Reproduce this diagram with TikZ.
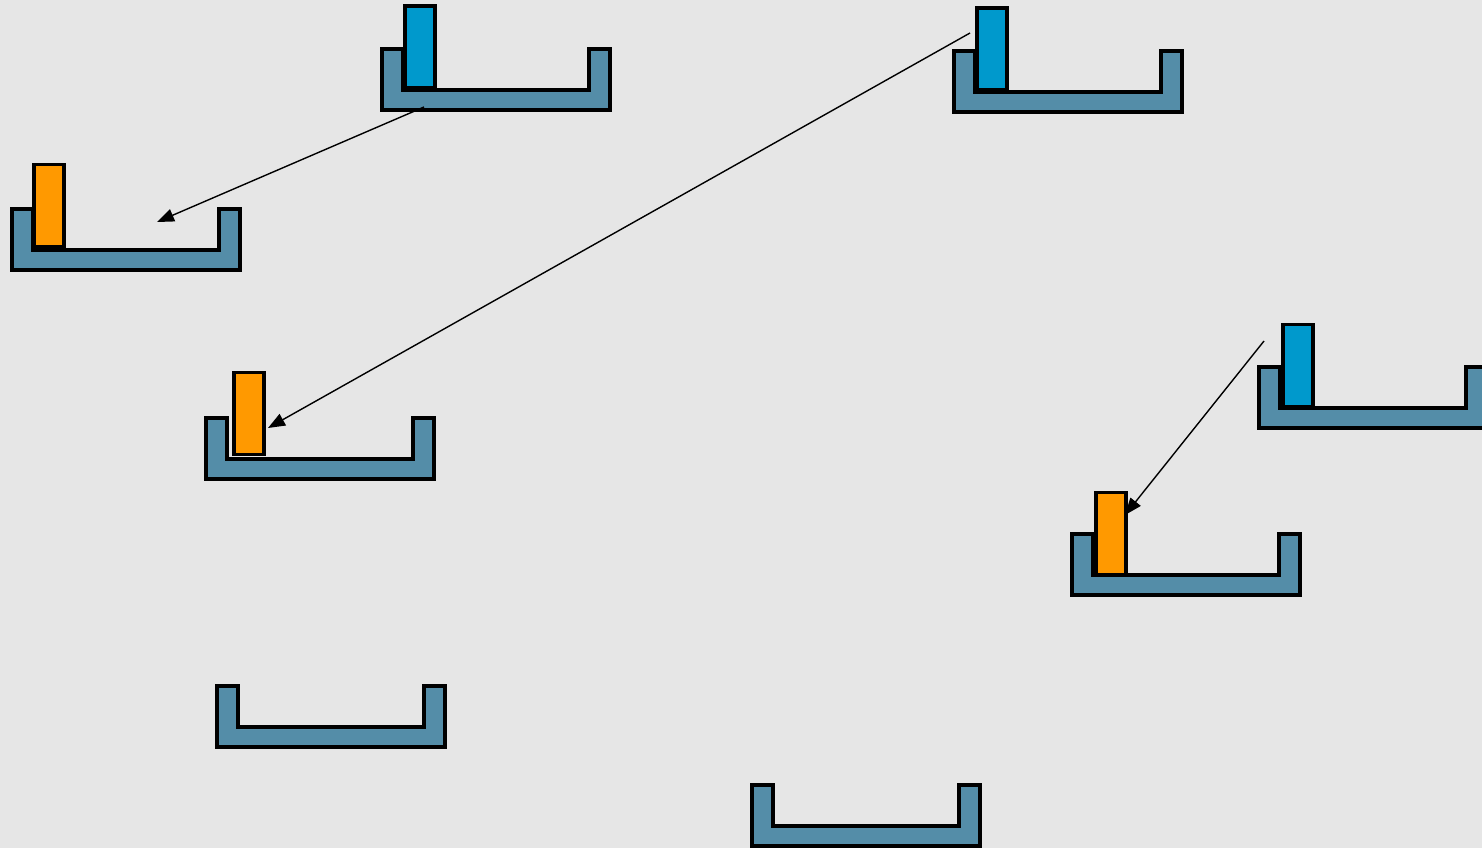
\documentclass[tikz,border=0pt]{standalone}
\usepackage{tikz}
\usetikzlibrary{arrows.meta}
\definecolor{granite}{RGB}{230,230,230}
\definecolor{trayblue}{RGB}{84,141,168}
\definecolor{barblue}{RGB}{0,153,204}
\definecolor{barorange}{RGB}{255,153,0}
\tikzstyle{trayline}=[draw=black, fill=trayblue, line width=3.5pt, line join=miter]
\tikzstyle{bluebar}=[rectangle, draw=black, fill=barblue, line width=3.5pt,
        minimum width=30pt, minimum height=82pt, inner sep=0pt, anchor=south west]
\tikzstyle{orangebar}=[bluebar, fill=barorange]
\tikzstyle{myarrow}=[-{Triangle[length=17pt,width=13pt]}, line width=1.4pt]
% U-shaped tray: name, left, top
\newcommand{\tray}[3]{%
  \draw[trayline] (#2,#3) -- ++(21,0) -- ++(0,41) -- ++(186,0) -- ++(0,-41)
        -- ++(21,0) -- ++(0,61) -- ++(-228,0) -- cycle;
  \coordinate (#1) at (#2,#3);
}

\begin{document}
\begin{tikzpicture}[x=1pt, y=-1pt]
	\useasboundingbox (0,0) rectangle (1482,848);
	\clip (0,0) rectangle (1482,848);
	\fill[granite] (0,0) rectangle (1482,848);

	\tray{TrayOne}{382}{49}
	\tray{TrayTwo}{954}{51}
	\tray{TrayThree}{12}{209}
	\tray{TrayFour}{206}{418}
	\tray{TrayFive}{1259}{367}
	\tray{TraySix}{1072}{534}
	\tray{TraySeven}{217}{686}
	\tray{TrayEight}{752}{785}

	\node (BlueOne) [bluebar] at (403,90) {};
	\node (BlueTwo) [bluebar] at (975,92) {};
	\node (BlueFive) [bluebar] at (1281,408) {};
	\node (OrangeThree) [orangebar] at (32,248) {};
	\node (OrangeFour) [orangebar] at (232,456) {};
	\node (OrangeSix) [orangebar] at (1094,576) {};

	\coordinate (FromOne) at (424,107);
	\coordinate (ToThree) at (157,222);
	\coordinate (FromTwo) at (970,33);
	\coordinate (ToFour) at (268,428);
	\coordinate (FromFive) at (1264,341);
	\coordinate (ToSix) at (1125,515);

\draw[myarrow] (FromOne) -- (ToThree);
\draw[myarrow] (FromTwo) -- (ToFour);
\draw[myarrow] (FromFive) -- (ToSix);
\end{tikzpicture}
\end{document}
